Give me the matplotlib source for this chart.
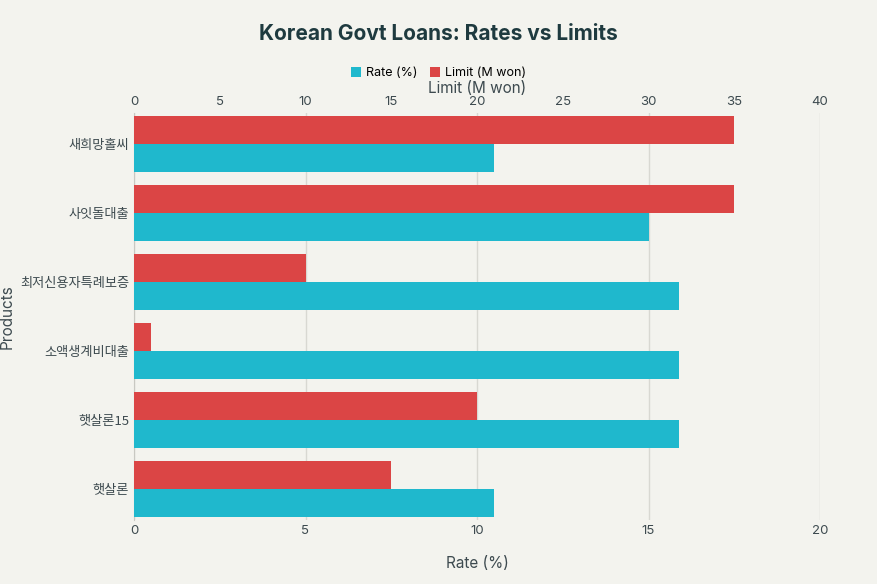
import matplotlib.pyplot as plt
import numpy as np

plt.rcParams['font.family'] = ['Inter', 'Noto Sans CJK KR', 'DejaVu Sans']

products = ['햇살론', '햇살론15', '소액생계비대출', '최저신용자특례보증', '사잇돌대출', '새희망홀씨']
rates = [10.5, 15.9, 15.9, 15.9, 15.0, 10.5]
limits = [15, 20, 1, 10, 35, 35]

bg = '#f3f3ee'
cyan = '#1fb8cd'
red = '#db4545'

fig = plt.figure(figsize=(8.77, 5.84), dpi=100, facecolor=bg)
ax = fig.add_axes([134 / 877, 1 - 520 / 584, 686 / 877, 407 / 584], facecolor=bg)
ax2 = ax.twiny()

y = np.arange(len(products))
h = 0.4
b1 = ax.barh(y - h / 2, rates, height=h, color=cyan, label='Rate (%)', zorder=3)
b2 = ax2.barh(y + h / 2, limits, height=h, color=red, label='Limit (M won)', zorder=3)

ax.set_xlim(0, 20)
ax2.set_xlim(0, 40)
ax.set_ylim(-0.45, 5.45)
ax.set_yticks(y)
ax.set_yticklabels(products, family=['Noto Sans CJK KR', 'DejaVu Sans'])
ax.set_xticks(range(0, 21, 5))
ax2.set_xticks(range(0, 41, 5))
ax.grid(axis='x', color='#d8d8d2', linewidth=1, zorder=0)
for a in (ax, ax2):
    for s in a.spines.values():
        s.set_visible(False)
    a.tick_params(length=0, colors='#3d4a4f', labelsize=9.5)
ax.spines['left'].set_visible(True)
ax.spines['left'].set_color('#c8c8c2')

ax.set_xlabel('Rate (%)', fontsize=11, color='#3d4a4f', labelpad=14)
ax.set_ylabel('Products', fontsize=11, color='#3d4a4f')
ax2.set_xlabel('Limit (M won)', fontsize=11, color='#3d4a4f', labelpad=2)

fig.legend([b1, b2], ['Rate (%)', 'Limit (M won)'], loc='center', bbox_to_anchor=(0.5, 1 - 73 / 584),
           ncol=2, frameon=False, fontsize=9, handlelength=0.8, handleheight=0.8,
           columnspacing=1.0, handletextpad=0.4)
fig.text(0.5, 1 - 34 / 584, 'Korean Govt Loans: Rates vs Limits', ha='center', va='center',
         fontsize=15, fontweight='bold', color='#1e3a3f')

fig.savefig('out.png', facecolor=bg)
